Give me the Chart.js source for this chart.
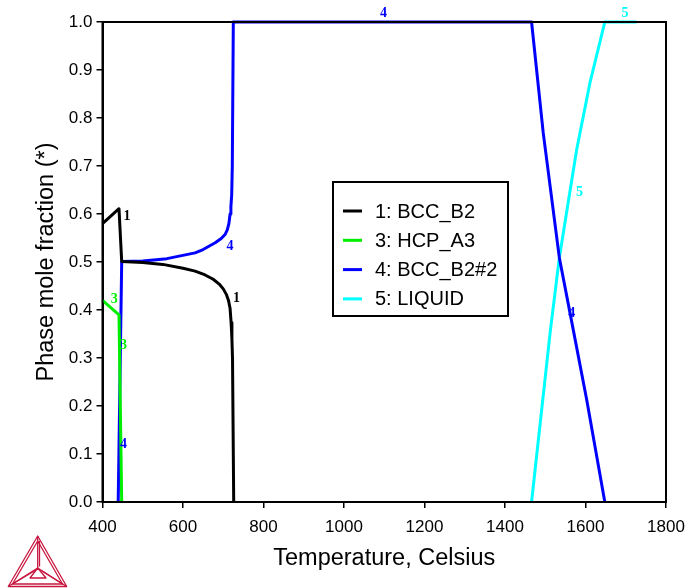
<!DOCTYPE html>
<html>
<head>
<meta charset="utf-8">
<script src="https://cdn.jsdelivr.net/npm/chart.js@4.4.1/dist/chart.umd.min.js"></script>
<style>
  html, body { margin: 0; padding: 0; background: #fff; }
  #wrap { position: relative; width: 689px; height: 588px; }
  #logo { position: absolute; left: 0; top: 530px; }
</style>
</head>
<body>
<div id="wrap">
  <canvas id="c" width="689" height="588"></canvas>
  <svg id="logo" width="76" height="58" viewBox="0 530 76 58">
    <g fill="none" stroke="#c8173f" stroke-width="1.3" stroke-linejoin="round">
      <polygon points="37.7,536 8.3,586.5 66.7,586.5"/>
      <polygon points="37.7,541 12.5,584 62.5,584"/>
      <line x1="37.7" y1="536" x2="37.7" y2="568"/>
      <line x1="39.5" y1="541" x2="39.5" y2="566.5"/>
      <line x1="8.3" y1="586.5" x2="37.7" y2="568"/>
      <line x1="12.5" y1="584" x2="36" y2="570"/>
      <line x1="66.7" y1="586.5" x2="37.7" y2="568"/>
      <line x1="62.5" y1="584" x2="41" y2="570.5"/>
      <polygon points="37.7,568 30,578 46,578"/>
    </g>
  </svg>
</div>
<script>
// ---- Data ----
const seriesNames = ['1: BCC_B2', '3: HCP_A3', '4: BCC_B2#2', '5: LIQUID'];

const bccB2_T = [400, 441, 447.7, 500, 550, 600, 630, 655, 675, 690, 700, 708, 713, 717, 719.5, 721.5, 723, 726];
const bccB2_F = [0.58, 0.611, 0.501, 0.499, 0.495, 0.487, 0.481, 0.473, 0.464, 0.454, 0.444, 0.432, 0.42, 0.403, 0.374, 0.34, 0.3, 0];

const hcpA3_T = [400, 441, 447.7];
const hcpA3_F = [0.42, 0.39, 0];

const bccB2n2_T = [439, 447.7, 500, 560, 630, 650, 680, 695, 705, 710, 714, 717, 719, 721, 722.5, 725, 1466, 1495, 1535, 1561.5, 1603, 1648];
const bccB2n2_F = [0, 0.501, 0.502, 0.507, 0.519, 0.526, 0.54, 0.549, 0.558, 0.567, 0.58, 0.6, 0.615, 0.64, 0.7, 1.0, 1.0, 0.769, 0.509, 0.394, 0.213, 0];

const liquid_T = [1466, 1512, 1535, 1578, 1611, 1648, 1727];
const liquid_F = [0, 0.352, 0.509, 0.734, 0.873, 1.0, 1.0];

// curve number labels (series index, T, fraction)
const curveLabelSeries = [0, 2, 0, 1, 1, 2, 2, 3, 3, 2];
const curveLabelT = [461, 717, 733, 429, 452, 452, 1098, 1698, 1585, 1566];
const curveLabelF = [0.594, 0.533, 0.425, 0.422, 0.326, 0.12, 1.017, 1.017, 0.645, 0.393];
const curveLabelText = ['1', '4', '1', '3', '3', '4', '4', '5', '5', '4'];

const xMin = 400, xMax = 1800, xStep = 200;
const yMin = 0, yMax = 1, yStep = 0.1;

// ---- Build ----
const colors = ['#000000', '#00ee00', '#0000ff', '#00ffff'];
const seriesT = [bccB2_T, hcpA3_T, bccB2n2_T, liquid_T];
const seriesF = [bccB2_F, hcpA3_F, bccB2n2_F, liquid_F];
const FONT = "'Liberation Sans', Arial, sans-serif";

const datasets = seriesNames.map((name, i) => ({
  label: name,
  data: seriesT[i].map((t, k) => ({ x: t, y: seriesF[i][k] })),
  showLine: true,
  borderColor: colors[i],
  backgroundColor: colors[i],
  borderWidth: 3,
  borderJoinStyle: 'round',
  pointRadius: 0,
  tension: 0,
  clip: false
}));

const framePlugin = {
  id: 'frame',
  afterDatasetsDraw(chart) {
    const { ctx, chartArea: a } = chart;
    ctx.save();
    ctx.strokeStyle = '#000';
    ctx.lineWidth = 2;
    ctx.strokeRect(a.left, a.top, a.right - a.left, a.bottom - a.top);
    ctx.restore();
  }
};

const curveLabelPlugin = {
  id: 'curveLabels',
  afterDatasetsDraw(chart) {
    const { ctx, scales } = chart;
    ctx.save();
    ctx.font = "bold 14px 'Liberation Serif', 'Times New Roman', serif";
    ctx.textAlign = 'center';
    ctx.textBaseline = 'middle';
    curveLabelText.forEach((txt, i) => {
      ctx.fillStyle = colors[curveLabelSeries[i]];
      ctx.fillText(txt, scales.x.getPixelForValue(curveLabelT[i]), scales.y.getPixelForValue(curveLabelF[i]));
    });
    ctx.restore();
  }
};

const legendPlugin = {
  id: 'boxLegend',
  afterDraw(chart) {
    const { ctx } = chart;
    const box = { x: 333, y: 182, w: 175, h: 134 };
    ctx.save();
    ctx.fillStyle = '#fff';
    ctx.fillRect(box.x, box.y, box.w, box.h);
    ctx.strokeStyle = '#000';
    ctx.lineWidth = 2;
    ctx.strokeRect(box.x, box.y, box.w, box.h);
    ctx.font = '20px ' + FONT;
    ctx.textBaseline = 'middle';
    ctx.textAlign = 'left';
    chart.data.datasets.forEach((ds, i) => {
      const y = box.y + 29 + i * 29.3;
      ctx.strokeStyle = ds.borderColor;
      ctx.lineWidth = 3;
      ctx.beginPath();
      ctx.moveTo(box.x + 10, y);
      ctx.lineTo(box.x + 29, y);
      ctx.stroke();
      ctx.fillStyle = '#000';
      ctx.fillText(ds.label, box.x + 42, y + 1);
    });
    ctx.restore();
  }
};

new Chart(document.getElementById('c'), {
  type: 'scatter',
  data: { datasets },
  plugins: [framePlugin, curveLabelPlugin, legendPlugin],
  options: {
    responsive: false,
    animation: false,
    layout: { padding: { left: 0, right: 23, top: 22, bottom: 0 } },
    plugins: { legend: { display: false }, tooltip: { enabled: false } },
    scales: {
      x: {
        type: 'linear',
        min: xMin, max: xMax,
        afterFit(s) { s.height = 86; s.paddingLeft = 0; s.paddingRight = 0; },
        ticks: { stepSize: xStep, color: '#000', font: { size: 17, family: FONT }, padding: 9, maxRotation: 0,
                 callback: v => String(v) },
        grid: { drawOnChartArea: false, drawTicks: true, tickLength: 6, color: '#000', lineWidth: 1.5 },
        border: { color: '#000', width: 2 },
        title: { display: true, text: 'Temperature, Celsius', color: '#000', font: { size: 23.5, family: FONT }, padding: { top: 0, bottom: 15 } }
      },
      y: {
        type: 'linear',
        min: yMin, max: yMax,
        afterFit(s) { s.width = 102.5; s.paddingTop = 0; s.paddingBottom = 0; },
        ticks: { stepSize: yStep, color: '#000', font: { size: 17, family: FONT }, padding: 4,
                 callback: v => Number(v).toFixed(1) },
        grid: { drawOnChartArea: false, drawTicks: true, tickLength: 6, color: '#000', lineWidth: 1.5 },
        border: { color: '#000', width: 2 },
        title: { display: true, text: 'Phase mole fraction (*)', color: '#000', font: { size: 23.5, family: FONT }, padding: { top: 32, bottom: 0 } }
      }
    }
  }
});
</script>
</body>
</html>
